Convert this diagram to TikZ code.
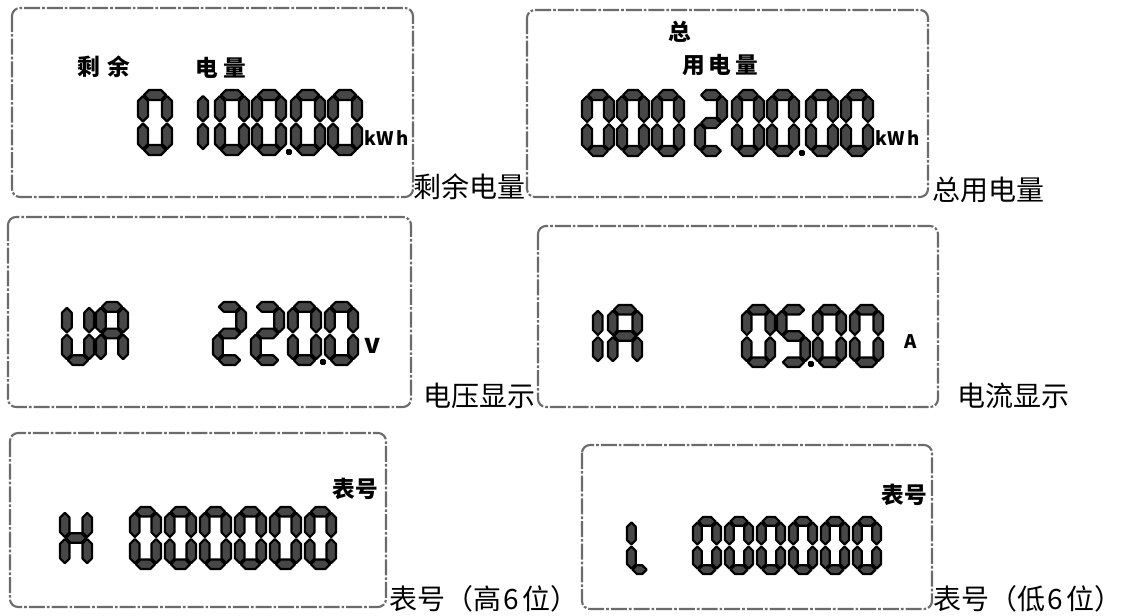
\documentclass[tikz,border=0pt]{standalone}
\usepackage{fontspec}
\newfontfamily\cjk{Noto Sans CJK SC}
\usetikzlibrary{positioning}

\tikzset{
  panel/.style={draw=black!58, line width=1.6pt, rounded corners=6pt, dash pattern=on 12pt off 1.5pt on 2pt off 1.5pt},
  lcdseg/.style={fill=black!72, draw=black, line width=1.6pt, line join=round},
  caption/.style={anchor=west, inner sep=0pt, font=\cjk\fontsize{21}{24}\selectfont},
  lcdtext/.style={inner sep=0pt, font=\cjk\bfseries\fontsize{17}{19}\selectfont},
  unit/.style={inner sep=0pt, anchor=base west, font=\cjk\bfseries\fontsize{14}{16}\selectfont}
}

% segments: centre x, centre y, half length
\newcommand{\hsegm}[3]{\filldraw[lcdseg] ({(#1)-(#3)},{#2}) -- ({(#1)-(#3)+\segh},{(#2)-\segh}) -- ({(#1)+(#3)-\segh},{(#2)-\segh}) -- ({(#1)+(#3)},{#2}) -- ({(#1)+(#3)-\segh},{(#2)+\segh}) -- ({(#1)-(#3)+\segh},{(#2)+\segh}) -- cycle;}
\newcommand{\vsegm}[3]{\filldraw[lcdseg] ({#1},{(#2)-(#3)}) -- ({(#1)+\segh},{(#2)-(#3)+\segh}) -- ({(#1)+\segh},{(#2)+(#3)-\segh}) -- ({#1},{(#2)+(#3)}) -- ({(#1)-\segh},{(#2)+(#3)-\segh}) -- ({(#1)-\segh},{(#2)-(#3)+\segh}) -- cycle;}
\newcommand{\lcda}{\hsegm{\digw/2}{\segh}{\digw/2-\segh-1}}
\newcommand{\lcdg}{\hsegm{\digw/2}{\digh/2}{\digw/2-\segh-1}}
\newcommand{\lcdd}{\hsegm{\digw/2}{\digh-\segh}{\digw/2-\segh-1}}
\newcommand{\lcdf}{\vsegm{\segh}{\digh/4+\segh/2}{\digh/4-\segh/2-1}}
\newcommand{\lcde}{\vsegm{\segh}{3*\digh/4-\segh/2}{\digh/4-\segh/2-1}}
\newcommand{\lcdb}{\vsegm{\digw-\segh}{\digh/4+\segh/2}{\digh/4-\segh/2-1}}
\newcommand{\lcdc}{\vsegm{\digw-\segh}{3*\digh/4-\segh/2}{\digh/4-\segh/2-1}}
% one lcd character: x, y, width, height, segments
\newcommand{\lcdchar}[5]{%
  \begin{scope}[shift={(#1,#2)}]
    \pgfmathsetmacro{\digw}{#3}\pgfmathsetmacro{\digh}{#4}\pgfmathsetmacro{\segh}{#4/13}
    \foreach \s in {#5} {\csname lcd\s\endcsname}
  \end{scope}}
\newcommand{\lcddot}[2]{\filldraw[lcdseg] ({#1-1.5},{#2-1.5}) rectangle ({#1+1.5},{#2+1.5});}

\begin{document}
\begin{tikzpicture}[x=0.75pt,y=0.75pt,yscale=-1,xscale=1]
\path[use as bounding box] (0,0) rectangle (1122,615);

%Panel remaining energy
\draw[panel] (12,8) rectangle (413,197);
\node[lcdtext] (remainlbl) at (104,67) {剩\hspace{6pt}余};
\node[lcdtext] (energylbl) at (221,68) {电\hspace{4pt}量};
\lcdchar{138}{90}{34}{65}{a,b,c,d,e,f}
\lcdchar{198}{90}{11}{65}{e,f}
\lcdchar{215}{90}{34}{65}{a,b,c,d,e,f}
\lcdchar{252}{90}{34}{65}{a,b,c,d,e,f}
\lcddot{289}{152}
\lcdchar{291}{90}{34}{65}{a,b,c,d,e,f}
\lcdchar{328}{90}{34}{65}{a,b,c,d,e,f}
\node[unit] (remainunit) at (364,145) {kW\,h};
% Text Node
\node[caption] (remaincap) at (413,187) {剩余电量};

%Panel total energy
\draw[panel] (527,10) rectangle (928,197);
\node[lcdtext] (totallbl) at (680,32) {总};
\node[lcdtext] (usedlbl) at (720,65) {用\hspace{3pt}电\hspace{3pt}量};
\lcdchar{582}{90}{32}{66}{a,b,c,d,e,f}
\lcdchar{617}{90}{32}{66}{a,b,c,d,e,f}
\lcdchar{652}{90}{32}{66}{a,b,c,d,e,f}
\lcdchar{695}{90}{32}{66}{a,b,g,e,d}
\lcdchar{732}{90}{32}{66}{a,b,c,d,e,f}
\lcdchar{767}{90}{32}{66}{a,b,c,d,e,f}
\lcddot{802}{153}
\lcdchar{806}{90}{32}{66}{a,b,c,d,e,f}
\lcdchar{841}{90}{32}{66}{a,b,c,d,e,f}
\node[unit] (totalunit) at (875,145) {kW\,h};
% Text Node
\node[caption] (totalcap) at (932,190) {总用电量};

%Panel voltage
\draw[panel] (8,217) rectangle (411,407);
\lcdchar{62}{302}{32}{63}{b,c,d,e,f}
\lcdchar{96}{302}{32}{63}{a,b,c,e,f,g}
\lcdchar{213}{302}{33}{63}{a,b,g,e,d}
\lcdchar{251}{302}{33}{63}{a,b,g,e,d}
\lcdchar{288}{302}{33}{63}{a,b,c,d,e,f}
\lcddot{323}{362}
\lcdchar{325}{302}{33}{63}{a,b,c,d,e,f}
\node[unit, font=\cjk\bfseries\fontsize{20}{22}\selectfont] (voltunit) at (364,353) {v};
% Text Node
\node[caption] (voltcap) at (423,396) {电压显示};

%Panel current
\draw[panel] (538,226) rectangle (938,407);
\lcdchar{593}{305}{11}{62}{e,f}
\lcdchar{608}{305}{34}{62}{a,b,c,e,f,g}
\lcdchar{742}{305}{33}{62}{a,b,c,d,e,f}
\lcdchar{777}{305}{33}{62}{a,f,g,c,d}
\lcddot{811}{364}
\lcdchar{813}{305}{33}{62}{a,b,c,d,e,f}
\lcdchar{850}{305}{33}{62}{a,b,c,d,e,f}
\node[unit] (currunit) at (904,348) {A};
% Text Node
\node[caption] (currcap) at (957,396) {电流显示};

%Panel meter number high
\draw[panel] (10,433) rectangle (386,607);
\node[lcdtext] (highlbl) at (355,489) {表号};
\lcdchar{60}{507}{32}{62}{b,c,e,f,g}
\foreach \x in {130,165,200,235,270,305}
  \lcdchar{\x}{507}{31}{62}{a,b,c,d,e,f};
% Text Node
\node[caption] (highcap) at (389,599) {表号（高\hspace{2pt}6\hspace{2pt}位）};

%Panel meter number low
\draw[panel] (582,445) rectangle (932,609);
\node[lcdtext] (lowlbl) at (904,495) {表号};
\lcdchar{627}{517}{25}{57}{d,e,f}
\foreach \x in {693,725,757,789,821,853}
  \lcdchar{\x}{517}{28}{57}{a,b,c,d,e,f};
% Text Node
\node[caption] (lowcap) at (933,599) {表号（低\hspace{2pt}6\hspace{2pt}位）};
\end{tikzpicture}
\end{document}
